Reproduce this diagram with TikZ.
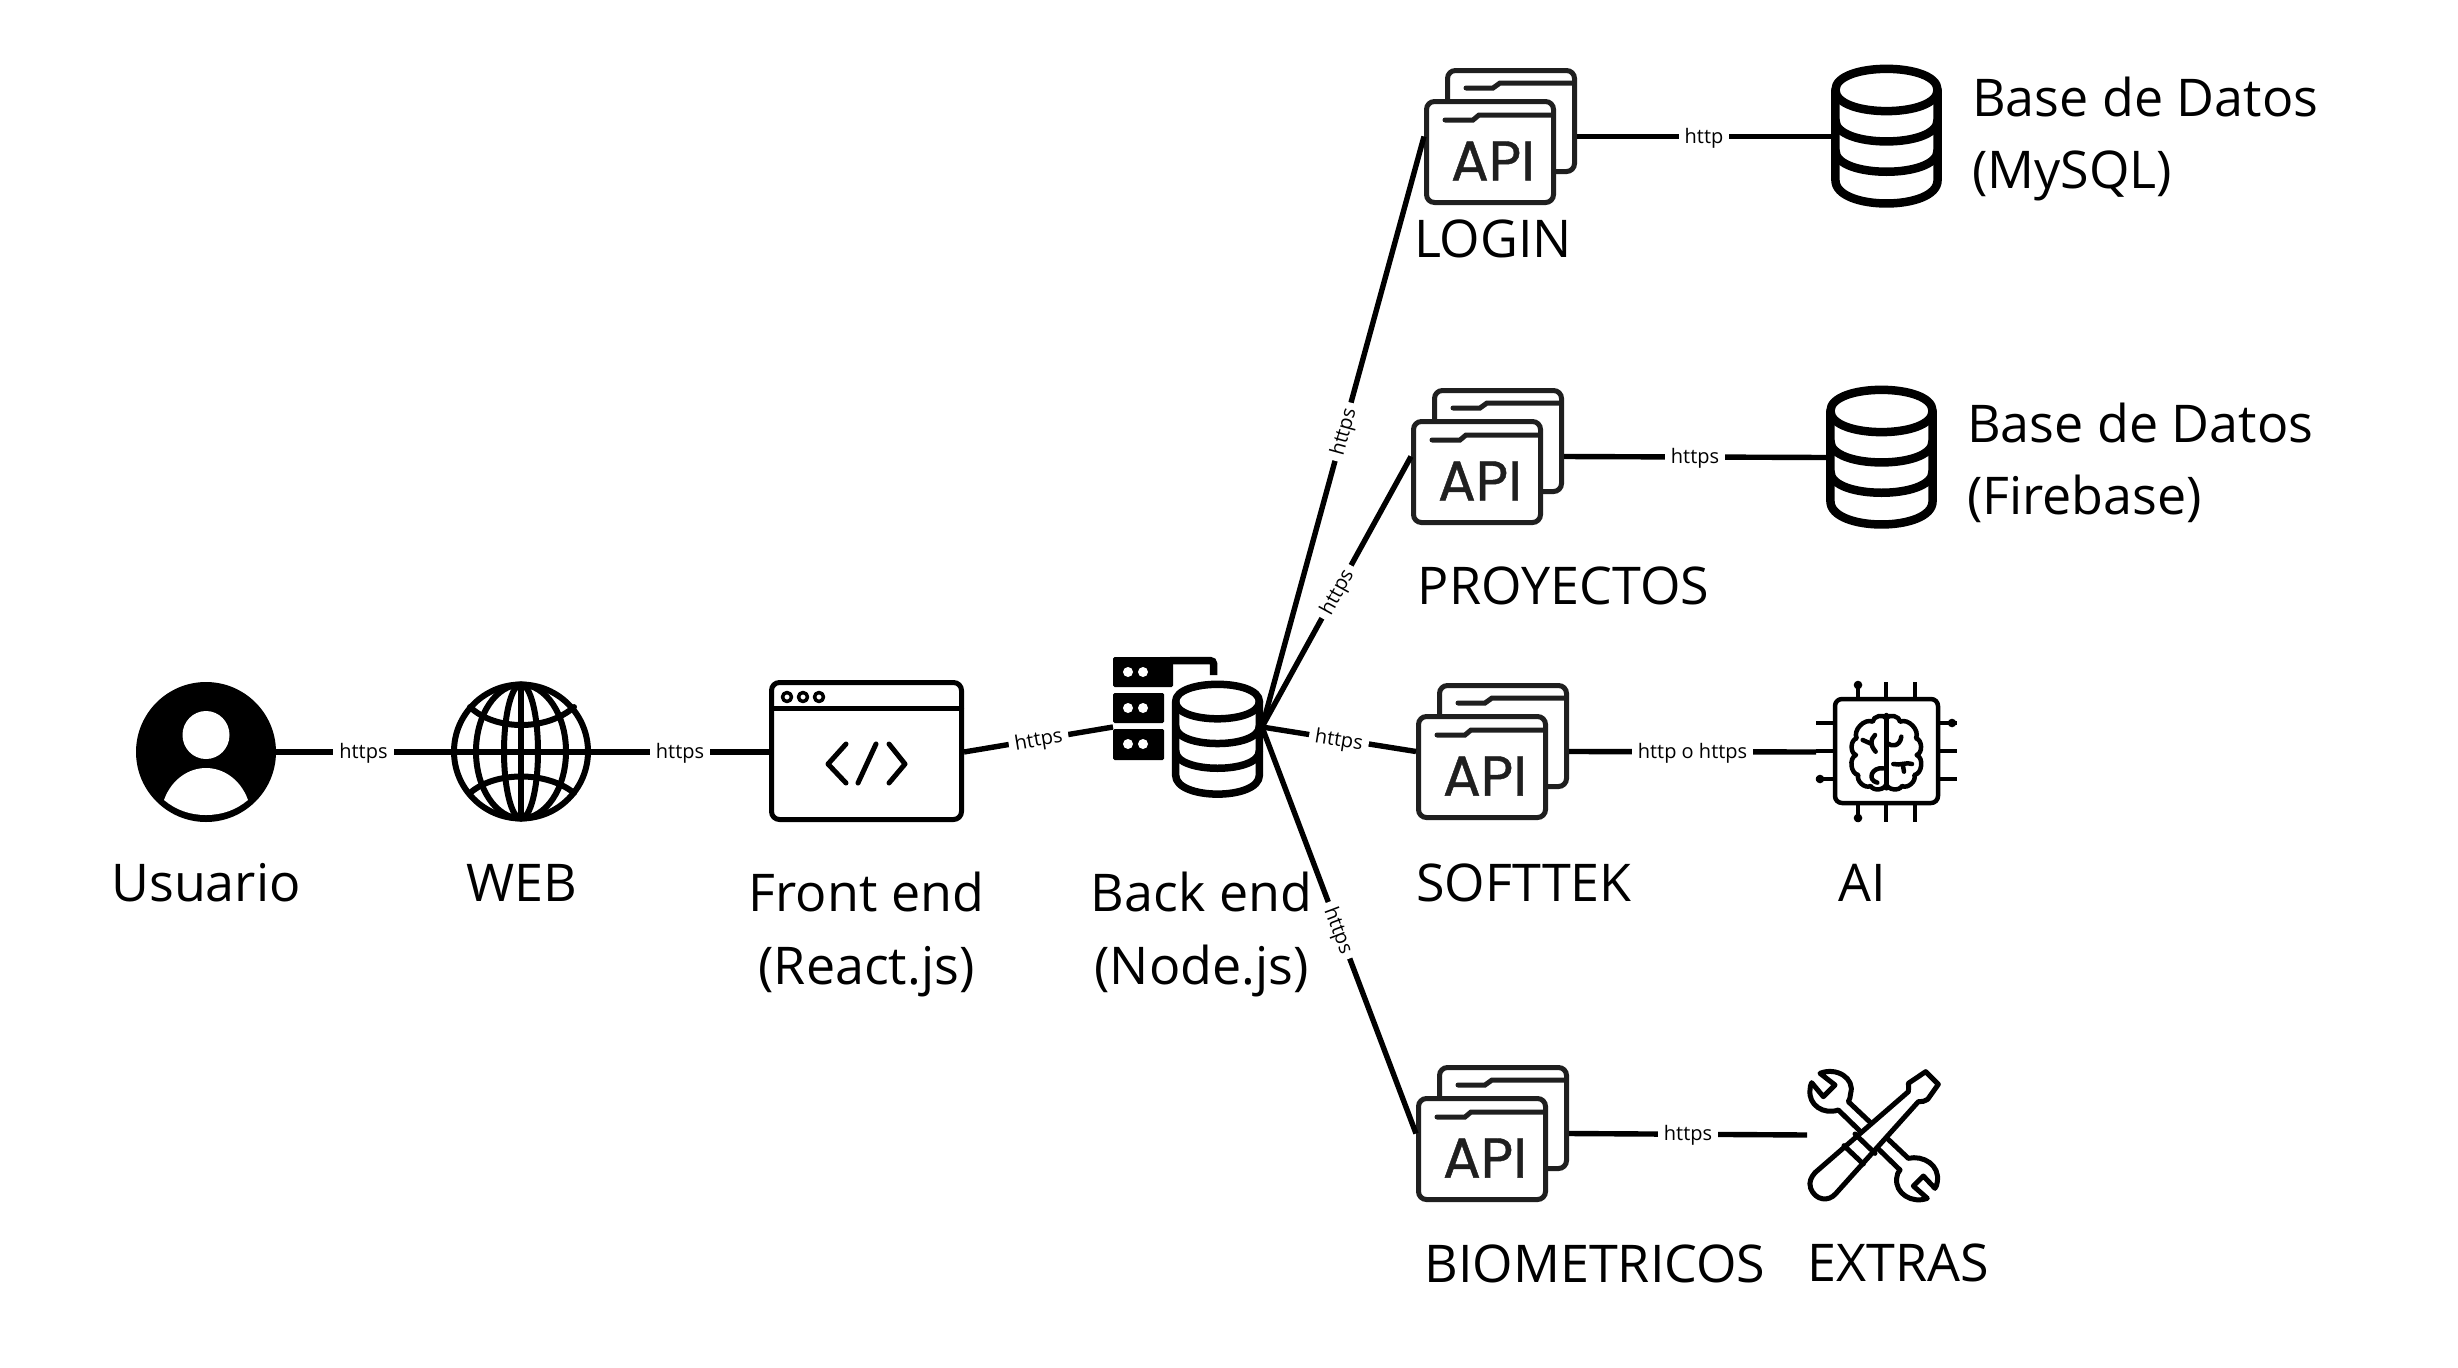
\documentclass[tikz,border=0pt]{standalone}
\usepackage{fontspec}
\setmainfont{Open Sans}
\newfontfamily\apifont[FakeBold=0.8]{Poppins}
\tikzset{
  zerosep/.style={inner sep=0pt,outer sep=0pt},
  link/.style={line width=5.4pt,black},
  lbl/.style={fill=white,inner xsep=6pt,inner ysep=2pt,yshift=-1.5pt,font=\fontsize{20}{24}\selectfont,text=black},
  captxt/.style={anchor=base,align=center,font=\fontsize{52}{73}\selectfont,text=black,inner sep=0pt},
  captxtl/.style={anchor=base west,align=left,font=\fontsize{52}{72}\selectfont,text=black,inner sep=0pt},
  icon/.style={line width=#1,black,line cap=round,line join=round},
}
% database cylinder: name, x, y, w, h, line width
\newcommand{\dbicon}[6]{%
  \node[zerosep,minimum width=#4pt,minimum height=#5pt] (#1) at (#2+#4/2,#3+#5/2) {};
  \begin{scope}[shift={(#2,#3)},x=#4pt,y=-#5pt,icon=#6]
    \draw (.04,.17) .. controls (.04,-.03) and (.96,-.03) .. (.96,.17)
          .. controls (.96,.37) and (.04,.37) .. (.04,.17) -- cycle;
    \draw (.04,.17) -- (.04,.81) .. controls (.04,1.03) and (.96,1.03) .. (.96,.81) -- (.96,.17);
    \draw (.04,.385) .. controls (.04,.585) and (.96,.585) .. (.96,.385);
    \draw (.04,.6) .. controls (.04,.8) and (.96,.8) .. (.96,.6);
  \end{scope}}
% API folders: name, x, y (outer top left of front folder)
\newcommand{\apiicon}[3]{%
  \begin{scope}[shift={(#2,#3)},line width=5pt,draw=black!88]
    \coordinate (#1l) at (0,37.5);
    \coordinate (#1r) at (153,37.5);
    \draw[rounded corners=8pt] (23.5,4) -- (23.5,-28.5) -- (150.5,-28.5) -- (150.5,72.5) -- (128,72.5);
    \draw[line cap=round] (42,-11) -- (69,-11) -- (76,-16) -- (150,-16);
    \draw[fill=white,rounded corners=8pt] (2.5,2.5) rectangle (129.5,103.5);
    \draw[line cap=round] (21,21) -- (49,21) -- (55,16) -- (129,16);
    \node[zerosep,text=black!88,font=\apifont\fontsize{56}{60}\selectfont] (#1t) at (69,62) {API};
  \end{scope}}
\begin{document}
\begin{tikzpicture}[x=1pt,y=-1pt]
\useasboundingbox[fill=white] (0,0) rectangle (2458,1368);

% ---- Usuario
\node[zerosep,circle,fill=black,minimum size=140pt] (user) at (206,752) {};
\fill[white] (206,735) ellipse [x radius=23.5pt,y radius=24pt];
\fill[white] (164,800) .. controls (172,778) and (190,768) .. (206,768)
   .. controls (222,768) and (240,778) .. (248,800)
   .. controls (236,810) and (222,815) .. (206,815)
   .. controls (190,815) and (176,810) .. (164,800) -- cycle;

% ---- WEB globe
\node[zerosep,circle,minimum size=140pt] (web) at (521,752) {};
\begin{scope}[icon=6pt]
  \draw (521,751.5) circle [radius=67pt];
  \draw (521,751.5) ellipse [x radius=17pt,y radius=67pt];
  \draw (521,751.5) ellipse [x radius=45pt,y radius=67pt];
  \draw (521,684.5) -- (521,818.5);
  \draw (454,752) -- (588,752);
  \draw (470,707) .. controls (495,731) and (547,731) .. (574,707);
  \draw (470,793) .. controls (495,771) and (547,771) .. (574,793);
\end{scope}

% ---- Front end window
\node[zerosep,minimum width=195pt,minimum height=142pt] (front) at (866.5,752) {};
\begin{scope}[icon=5pt]
  \draw[rounded corners=8pt] (771.5,682.5) rectangle (961.5,819.5);
  \draw (771.5,708) -- (961.5,708);
  \draw[line width=3.5pt] (787,697) circle [radius=4.5pt] (803,697) circle [radius=4.5pt] (819,697) circle [radius=4.5pt];
  \draw (846,744) -- (828,764) -- (846,783);
  \draw (858,783) -- (876,744);
  \draw (889,744) -- (905,764) -- (889,783);
\end{scope}

% ---- Back end
\node[zerosep,minimum width=149pt,minimum height=140pt] (back) at (1187.5,727) {};
\fill[black,rounded corners=1.5pt] (1113,657) rectangle (1173,687);
\draw[line width=7.5pt,rounded corners=3pt] (1170,660.7) -- (1213.5,660.7) -- (1213.5,675);
\fill[black,rounded corners=1.5pt] (1113,693) rectangle (1164,723);
\fill[black,rounded corners=1.5pt] (1113,729) rectangle (1164,760);
\fill[white] (1128,672) circle [radius=5pt] (1143,672) circle [radius=5pt]
             (1128,708) circle [radius=5pt] (1143,708) circle [radius=5pt]
             (1128,744) circle [radius=5pt] (1143,744) circle [radius=5pt];
\dbicon{backdb}{1172}{682}{91}{115}{7.5pt}

% ---- Databases
\dbicon{dbone}{1831}{66}{111}{141}{8.5pt}
\dbicon{dbtwo}{1826}{387}{111}{141}{8.5pt}

% ---- API icons
\apiicon{login}{1424}{99}
\apiicon{proy}{1411}{419}
\apiicon{soft}{1416}{714}
\apiicon{bio}{1416}{1096}

% ---- AI chip
\node[zerosep,minimum width=141pt,minimum height=140pt] (chip) at (1886.5,752) {};
\begin{scope}[icon=4.5pt]
  \draw[rounded corners=7pt] (1835,699) rectangle (1938,803);
  \foreach \p in {1858,1886,1915}{
    \draw[line cap=butt] (\p,699) -- (\p,682);
    \draw[line cap=butt] (\p,803) -- (\p,822);
  }
  \foreach \p in {723,751,779}{
    \draw[line cap=butt] (1835,\p) -- (1816,\p);
    \draw[line cap=butt] (1938,\p) -- (1957,\p);
  }
  \fill (1858,685) circle [radius=4.3pt] (1858,818) circle [radius=4.3pt]
        (1820,779) circle [radius=4.3pt] (1952,723) circle [radius=4.3pt];
  \begin{scope}[shift={(1780,660)},x=.3333pt,y=-.3333pt]
    \draw (319,165) -- (319,385);
    \draw (319,175) to[bend right=75] (278,185) to[bend right=70] (230,235)
      to[bend right=75] (228,285) to[bend right=75] (235,345)
      to[bend right=70] (272,378) to[bend right=70] (319,372);
    \draw (319,175) to[bend left=75] (360,185) to[bend left=70] (408,235)
      to[bend left=75] (410,285) to[bend left=75] (403,345)
      to[bend left=70] (366,378) to[bend left=70] (319,372);
    \draw (285,225) .. controls (270,240) and (270,255) .. (287,275);
    \draw (248,240) -- (275,252);
    \draw (310,325) .. controls (275,320) and (260,360) .. (292,368);
    \draw (364,230) .. controls (360,260) and (335,260) .. (322,250);
    \draw (340,312) .. controls (360,318) and (380,305) .. (396,312);
    \draw (368,312) -- (372,335);
  \end{scope}
\end{scope}

% ---- Tools
\node[zerosep,minimum width=130pt,minimum height=130pt] (tools) at (1872,1135) {};
\begin{scope}[shift={(1780,1050)},x=.3333pt,y=-.3333pt,icon=5pt]
  % wrench
  \draw[fill=white] (120,70) .. controls (170,50) and (225,85) .. (212,130)
     .. controls (212,140) and (208,150) .. (205,155)
     -- (385,325) .. controls (430,315) and (480,345) .. (472,395)
     .. controls (472,403) and (468,410) .. (465,415)
     -- (430,378) -- (400,408) -- (442,445)
     .. controls (395,462) and (345,430) .. (350,385)
     .. controls (350,375) and (355,365) .. (360,360)
     -- (175,180) .. controls (130,195) and (85,165) .. (90,120)
     .. controls (90,110) and (92,105) .. (95,98)
     -- (130,140) -- (165,105) -- cycle;
  % screwdriver
  \draw[fill=white] (437,65) -- (475,103) -- (443,148) .. controls (435,155) and (425,155) .. (415,155)
     -- (168,430) .. controls (145,458) and (105,450) .. (92,415)
     .. controls (85,395) and (95,380) .. (105,368)
     -- (385,125) .. controls (388,115) and (385,108) .. (385,100) -- cycle;
  \draw (192,287) -- (250,342);
  \draw (225,252) -- (285,310);
\end{scope}

% ---- Connectors
\draw[link] (user.east) -- node[midway,lbl] {https} (web.west);
\draw[link] (web.east) -- node[midway,lbl] {https} (front.west);
\draw[link] (front.east) -- node[midway,sloped,lbl] {https} (back.west);
\draw[link] (back.east) -- node[midway,sloped,lbl] {https} (loginl);
\draw[link] (back.east) -- node[midway,sloped,lbl] {https} (proyl);
\draw[link] (back.east) -- node[midway,sloped,lbl] {https} (softl);
\draw[link] (back.east) -- node[midway,sloped,lbl] {https} (biol);
\draw[link] (loginr) -- node[midway,lbl] {http} (dbone.west);
\draw[link] (proyr) -- node[midway,lbl] {https} (dbtwo.west);
\draw[link] (softr) -- node[midway,lbl] {http o https} (chip.west);
\draw[link] (bior) -- node[midway,lbl] {https} (tools.west);

% ---- Captions
\node[captxt] (tuser) at (206,901) {Usuario};
\node[captxt] (tweb) at (521.5,901) {WEB};
\node[captxt] (tfront) at (866.5,984) {Front end\\(React.js)};
\node[captxt] (tback) at (1201.5,984) {Back end\\(Node.js)};
\node[captxt] (tlogin) at (1493,257) {LOGIN};
\node[captxt] (tproy) at (1563.5,604) {PROYECTOS};
\node[captxt] (tsoft) at (1524,901) {SOFTTEK};
\node[captxt] (tai) at (1862,901) {AI};
\node[captxt] (tbio) at (1595,1282) {BIOMETRICOS};
\node[captxt] (textra) at (1898,1281) {EXTRAS};
\node[captxtl] (tdbone) at (1972,188) {Base de Datos\\(MySQL)};
\node[captxtl] (tdbtwo) at (1967,514.5) {Base de Datos\\(Firebase)};
\end{tikzpicture}
\end{document}
